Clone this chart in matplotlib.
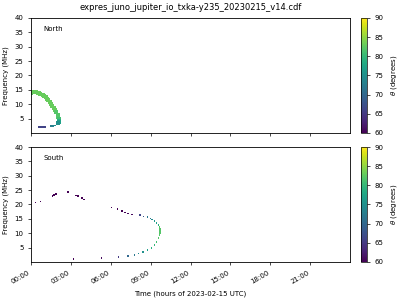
import datetime as dt
import numpy as np
import matplotlib
matplotlib.use('Agg')
import matplotlib.pyplot as plt
import matplotlib.dates as mdates

day = dt.datetime(2023, 2, 15)

# North hemisphere (hours, MHz, theta deg)
north_h = [0.0, 0.1, 0.2, 0.3, 0.4, 0.5, 0.6, 0.7, 0.8, 0.9, 1.0, 1.1, 1.2, 1.3,
           1.4, 1.5, 1.6, 1.7, 1.8, 1.9, 2.0, 2.05, 2.1, 2.1, 2.08, 2.05]
north_f = [14.0, 14.1, 14.2, 14.2, 14.1, 14.0, 13.9, 13.7, 13.4, 13.1, 12.8, 12.4, 11.9,
           11.4, 10.8, 10.2, 9.5, 8.8, 8.0, 7.2, 6.3, 5.6, 4.8, 4.2, 3.8, 3.6]
north_t = [82, 83, 83, 83, 83, 83, 83, 83, 83, 83, 83, 83, 83, 83,
           83, 83, 83, 83, 83, 82, 82, 82, 81, 79, 77, 75]
north_low_h = [0.6, 0.7, 0.8, 0.9, 1.0, 1.1, 1.5, 1.6, 1.7, 1.8]
north_low_f = [2.1, 2.1, 2.1, 2.1, 2.1, 2.1, 2.5, 2.5, 2.55, 2.6]
north_low_t = [66, 66, 66, 66, 66, 66, 73, 73, 74, 74]

# South hemisphere
south_h = [0.33, 0.70, 1.6, 1.75, 1.9, 2.8, 3.4, 3.55, 3.85, 4.0,
           6.05, 6.5, 6.85, 7.07, 7.3, 7.6, 8.2, 8.45, 8.75, 8.98, 9.1, 9.28, 9.43, 9.58,
           9.65, 9.7, 9.7, 9.7, 9.68, 9.58, 9.43, 9.28, 9.05, 8.75, 8.43, 8.1, 7.78,
           7.3, 6.58, 5.3, 3.2]
south_f = [20.7, 21.1, 23.0, 23.3, 23.6, 24.3, 23.2, 22.9, 22.2, 21.8,
           19.0, 18.4, 17.7, 17.2, 16.8, 16.6, 16.3, 15.9, 15.6, 15.1, 14.8, 14.2, 13.5, 12.8,
           12.2, 11.5, 10.7, 10.0, 9.3, 8.3, 6.9, 5.9, 4.85, 4.2, 3.5, 3.0, 2.4,
           2.1, 1.7, 1.4, 1.0]
south_t = [60, 60, 60, 60, 60, 60, 60, 60, 60, 60,
           60, 60, 60, 60, 61, 61, 66, 68, 72, 73, 74, 76, 77, 79,
           82, 82, 82, 82, 82, 82, 81, 80, 79, 77, 75, 74, 72,
           70, 65, 61, 60]

tick_hours = [0, 3, 6, 9, 12, 15, 18, 21]
title = 'expres_juno_jupiter_io_txka-y235_20230215_v14.cdf'


def to_time(hours):
    return [day + dt.timedelta(hours=h) for h in hours]


fig = plt.figure(figsize=(4, 3), dpi=100)
ax1 = fig.add_axes([0.0775, 0.5567, 0.7975, 0.3833])
ax2 = fig.add_axes([0.0775, 0.1267, 0.7975, 0.3833], sharex=ax1)
cax1 = fig.add_axes([0.9015, 0.5567, 0.015, 0.3833])
cax2 = fig.add_axes([0.9015, 0.1267, 0.015, 0.3833])

kw = dict(cmap='viridis', vmin=60, vmax=90, marker='s', linewidths=0)
sc1 = ax1.scatter(to_time(north_h), north_f, c=north_t, s=8, **kw)
ax1.scatter(to_time(north_low_h), north_low_f, c=north_low_t, s=1.5, **kw)
sc2 = ax2.scatter(to_time(south_h), south_f, c=south_t, s=1.2, **kw)

for ax, name, cax, sc in [(ax1, 'North', cax1, sc1), (ax2, 'South', cax2, sc2)]:
    ax.set_ylim(0, 40)
    ax.set_yticks(np.arange(5, 41, 5))
    ax.set_ylabel('Frequency (MHz)', fontsize=5, labelpad=4)
    ax.tick_params(labelsize=5, length=2, width=0.5)
    ax.text(0.04, 0.89, name, transform=ax.transAxes, fontsize=5)
    for s in ax.spines.values():
        s.set_linewidth(0.6)
    cb = fig.colorbar(sc, cax=cax)
    cb.set_ticks(np.arange(60, 91, 5))
    cb.ax.tick_params(labelsize=5, length=2, width=0.5)
    cb.outline.set_linewidth(0.5)
    cb.set_label(r'$\theta$ (degrees)', fontsize=5)

ax1.set_xlim(day, day + dt.timedelta(hours=24))
ax2.set_xticks(to_time(tick_hours))
ax2.xaxis.set_major_formatter(mdates.DateFormatter('%H:%M'))
plt.setp(ax1.get_xticklabels(), visible=False)
plt.setp(ax2.get_xticklabels(), rotation=30, ha='right')
ax2.set_xlabel('Time (hours of 2023-02-15 UTC)', fontsize=5)
ax1.set_title(title, fontsize=6)

fig.savefig('out.png', dpi=100)
